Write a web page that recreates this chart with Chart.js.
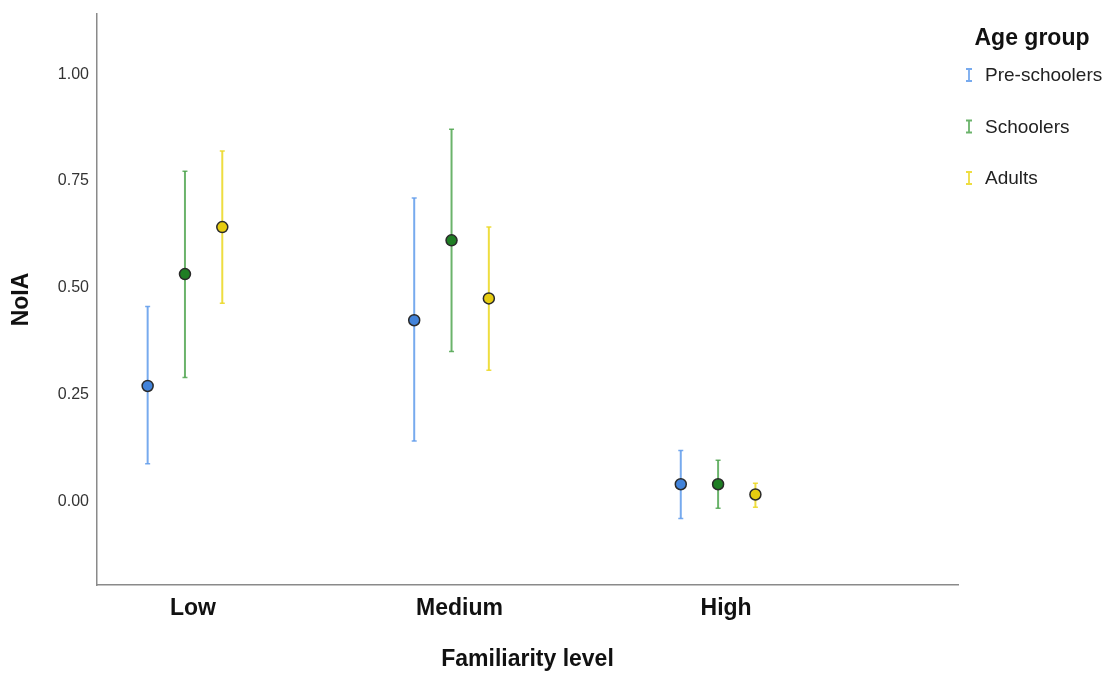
<!DOCTYPE html>
<html>
<head>
<meta charset="utf-8">
<script src="https://cdn.jsdelivr.net/npm/chart.js@4"></script>
<style>
  html, body { margin: 0; padding: 0; background: #fff; }
  canvas { display: block; }
</style>
</head>
<body>
<canvas id="myChart" width="1110" height="673"></canvas>
<script>
// familiarity levels on the x axis
const levels = ['Low', 'Medium', 'High'];
const yTicks = [0, 0.25, 0.5, 0.75, 1];

// age groups
const groups = ['Pre-schoolers', 'Schoolers', 'Adults'];

// mean NoIA per level, one array per group
const preMean = [0.270, 0.424, 0.040];
const schMean = [0.532, 0.611, 0.040];
const adlMean = [0.642, 0.475, 0.016];

// confidence interval bounds
const preLow = [0.088, 0.141, -0.040];
const preHigh = [0.456, 0.710, 0.119];
const schLow = [0.290, 0.351, -0.016];
const schHigh = [0.773, 0.871, 0.096];
const adlLow = [0.464, 0.307, -0.014];
const adlHigh = [0.820, 0.642, 0.042];

const barColors = ['rgba(95,155,235,0.85)', 'rgba(70,160,70,0.8)', 'rgba(235,215,30,0.85)'];
const dotColors = ['#4283da', '#1f7e24', '#e6cc10'];
const offsets = [-0.14, 0, 0.14];
const FONT = '"Liberation Sans", Arial, sans-serif';

function makeSeries(means, lows, highs, g) {
  return {
    label: groups[g],
    data: means.map((m, i) => ({ x: i + 1 + offsets[g], y: m, lo: lows[i], hi: highs[i] })),
    backgroundColor: dotColors[g],
    borderColor: '#2a2a2a',
    borderWidth: 1.5,
    pointRadius: 5.5,
    pointHoverRadius: 5.5,
    barColor: barColors[g]
  };
}

const datasets = [
  makeSeries(preMean, preLow, preHigh, 0),
  makeSeries(schMean, schLow, schHigh, 1),
  makeSeries(adlMean, adlLow, adlHigh, 2)
];

// whiskers, drawn under the dots
const errorBars = {
  id: 'errorBars',
  beforeDatasetsDraw(chart) {
    const c = chart.ctx;
    const xs = chart.scales.x, ys = chart.scales.y;
    c.save();
    chart.data.datasets.forEach(ds => {
      c.strokeStyle = ds.barColor;
      ds.data.forEach(p => {
        const px = xs.getPixelForValue(p.x);
        const top = ys.getPixelForValue(p.hi);
        const bot = ys.getPixelForValue(p.lo);
        c.lineWidth = 2;
        c.beginPath();
        c.moveTo(px, top);
        c.lineTo(px, bot);
        c.stroke();
        c.lineWidth = 1.5;
        c.beginPath();
        c.moveTo(px - 2.5, top);
        c.lineTo(px + 2.5, top);
        c.moveTo(px - 2.5, bot);
        c.lineTo(px + 2.5, bot);
        c.stroke();
      });
    });
    c.restore();
  }
};

// legend on the right with small I-beam markers
const sideLegend = {
  id: 'sideLegend',
  afterDraw(chart) {
    const c = chart.ctx;
    c.save();
    c.fillStyle = '#111';
    c.font = 'bold 23px ' + FONT;
    c.textAlign = 'center';
    c.textBaseline = 'middle';
    c.fillText('Age group', 1032, 39);
    c.font = '19px ' + FONT;
    c.textAlign = 'left';
    groups.forEach((g, i) => {
      const y = 75 + i * 51.5;
      c.strokeStyle = barColors[i];
      c.lineWidth = 1.8;
      c.beginPath();
      c.moveTo(969, y - 6); c.lineTo(969, y + 6);
      c.moveTo(966, y - 6); c.lineTo(972, y - 6);
      c.moveTo(966, y + 6); c.lineTo(972, y + 6);
      c.stroke();
      c.fillStyle = '#222';
      c.fillText(g, 985, y + 1);
    });
    c.restore();
  }
};

const ctx = document.getElementById('myChart').getContext('2d');
const myChart = new Chart(ctx, {
  type: 'scatter',
  data: { datasets: datasets },
  plugins: [errorBars, sideLegend],
  options: {
    responsive: false,
    animation: false,
    devicePixelRatio: 1,
    layout: { padding: { top: 14, right: 152, left: 0, bottom: 0 } },
    plugins: {
      legend: { display: false },
      tooltip: { enabled: false }
    },
    scales: {
      x: {
        type: 'linear',
        min: 0.67,
        max: 3.9,
        afterBuildTicks(scale) {
          scale.ticks = levels.map((l, i) => ({ value: i + 1 }));
        },
        afterFit(scale) {
          scale.height = 88;
          scale.paddingLeft = 0;
          scale.paddingRight = 0;
        },
        grid: { display: false, drawTicks: false },
        border: { color: '#8a8a8a', width: 1.5 },
        ticks: {
          padding: 10,
          labelOffset: 8,
          color: '#111',
          font: { family: FONT, size: 23, weight: 'bold' },
          callback: (v) => levels[Math.round(v) - 1]
        },
        title: {
          display: true,
          text: 'Familiarity level',
          color: '#111',
          padding: { top: 0, bottom: 0 },
          font: { family: FONT, size: 23, weight: 'bold' }
        }
      },
      y: {
        min: -0.196,
        max: 1.141,
        afterBuildTicks(scale) {
          scale.ticks = yTicks.map(v => ({ value: v }));
        },
        afterFit(scale) {
          scale.width = 97;
          scale.paddingTop = 0;
          scale.paddingBottom = 0;
        },
        grid: { display: false, drawTicks: false },
        border: { color: '#8a8a8a', width: 1.5 },
        ticks: {
          padding: 8,
          color: '#333',
          font: { family: FONT, size: 16 },
          callback: (v) => v.toFixed(2)
        },
        title: {
          display: true,
          text: 'NoIA',
          color: '#111',
          padding: { top: 8, bottom: 0 },
          font: { family: FONT, size: 23, weight: 'bold' }
        }
      }
    }
  }
});
</script>
</body>
</html>
